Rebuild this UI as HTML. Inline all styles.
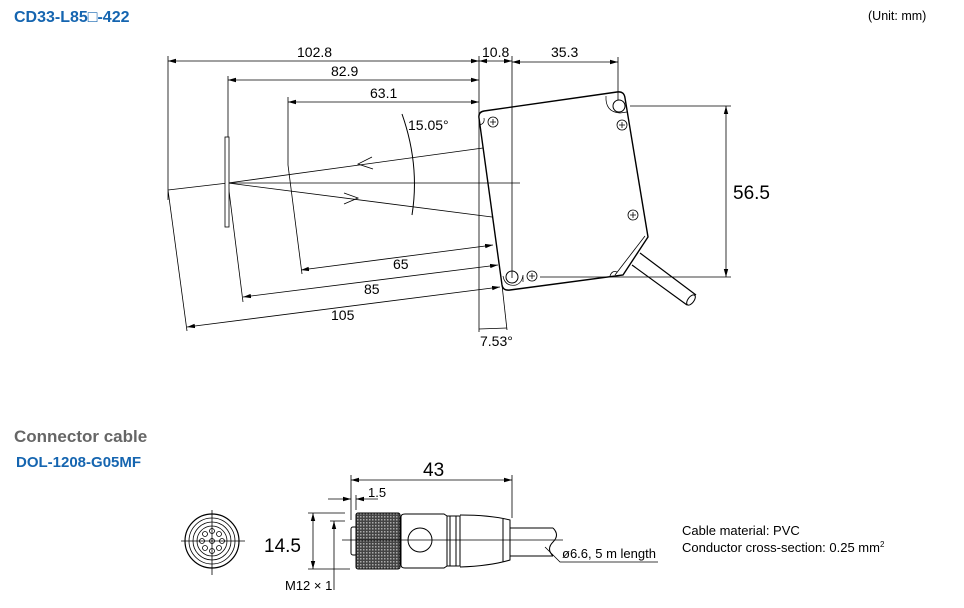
<!DOCTYPE html>
<html><head><meta charset="utf-8"><style>
html,body{margin:0;padding:0;background:#fff;}
svg{display:block;font-family:"Liberation Sans",sans-serif;}
</style></head><body>
<svg width="964" height="608" viewBox="0 0 964 608" xmlns="http://www.w3.org/2000/svg">
<defs>
<marker id="a" markerWidth="8" markerHeight="6" refX="8" refY="3" orient="auto-start-reverse" markerUnits="userSpaceOnUse"><path d="M0,0.8 L8,3 L0,5.2 Z" fill="#000"/></marker>
<pattern id="k" width="3" height="3" patternUnits="userSpaceOnUse"><rect width="3" height="3" fill="#444"/><rect x="0" y="0" width="1.5" height="1.5" fill="#aaa"/></pattern>
</defs>
<text x="14" y="22" font-size="16" font-weight="bold" fill="#1565b0">CD33-L85□-422</text>
<text x="868" y="20" font-size="12.5" fill="#000">(Unit: mm)</text>

<g stroke="#000" stroke-width="0.8" fill="none">
<path d="M168,56 V200 M168,190 L187,331 M228,76 V183 L243,302 M288,97 V165 L302,274 M479,56 V332 M512,56 V278 M618,57 V100"/>
<line x1="168" y1="61" x2="479" y2="61" marker-start="url(#a)" marker-end="url(#a)"/>
<line x1="479" y1="61" x2="512" y2="61" marker-start="url(#a)" marker-end="url(#a)"/>
<line x1="512" y1="62" x2="618" y2="62" marker-start="url(#a)" marker-end="url(#a)"/>
<line x1="228" y1="80" x2="479" y2="80" marker-start="url(#a)" marker-end="url(#a)"/>
<line x1="288" y1="102" x2="479" y2="102" marker-start="url(#a)" marker-end="url(#a)"/>
<line x1="228" y1="183" x2="520" y2="183"/>
<line x1="168" y1="190" x2="228" y2="183"/>
<line x1="228" y1="183" x2="483" y2="148"/>
<line x1="228" y1="183" x2="492" y2="217"/>
<path d="M372,157 L358,164 L373,169"/>
<path d="M344,193 L358,198 L344,204"/>
<path d="M402,114 Q420,165 412,215" stroke-width="1"/>
<line x1="301" y1="270" x2="493" y2="245" marker-start="url(#a)" marker-end="url(#a)"/>
<line x1="243" y1="297" x2="498" y2="265" marker-start="url(#a)" marker-end="url(#a)"/>
<line x1="187" y1="327" x2="500" y2="287" marker-start="url(#a)" marker-end="url(#a)"/>
<line x1="502" y1="285" x2="507" y2="330"/>
<line x1="479" y1="329" x2="507" y2="328"/>
</g>
<rect x="225" y="137" width="4" height="90" fill="#fff" stroke="#000" stroke-width="0.8"/>

<g stroke="#000" fill="none">
<path d="M484,111 L617,92 Q624,91 625,98 L648,237 L623,275 L510,290 Q503,291 502,285 L479,118 Q478,112 484,111 Z" stroke-width="1.4"/>
<path d="M479,125 Q485,124 484,118" stroke-width="0.7"/>
<path d="M606,96 Q605,112 620,113 L627,112" stroke-width="0.7"/>
<path d="M503,276 Q505,287 516,285 Q522,283 523,275 L523,282" stroke-width="0.7"/>
<path d="M645,236 L615,275 M610,276 Q612,270 617,272" stroke-width="0.8"/>
<circle cx="619" cy="106" r="6" stroke-width="1"/>
<circle cx="512" cy="277" r="6" stroke-width="1"/>
<g stroke-width="0.8">
<circle cx="493" cy="122" r="5"/><path d="M490,122h6M493,119v6"/>
<circle cx="622" cy="125" r="5"/><path d="M619,125h6M622,122v6"/>
<circle cx="633" cy="215" r="5"/><path d="M630,215h6M633,212v6"/>
<circle cx="532" cy="276" r="5"/><path d="M529,276h6M532,273v6"/>
</g>
<path d="M640,253 L696,295 M632,265 L687,305" stroke-width="1.2"/>
<ellipse cx="691" cy="300" rx="3" ry="6" transform="rotate(37 691 300)" stroke-width="1"/>
<g stroke-width="0.8">
<path d="M630,106 H731 M540,277 H731"/>
<line x1="726" y1="106" x2="726" y2="277" marker-start="url(#a)" marker-end="url(#a)"/>
</g>
</g>
<g font-size="14" fill="#000">
<text x="297" y="57">102.8</text>
<text x="482" y="57">10.8</text>
<text x="551" y="57">35.3</text>
<text x="331" y="76">82.9</text>
<text x="370" y="98">63.1</text>
<text x="408" y="130">15.05°</text>
<text x="393" y="269">65</text>
<text x="364" y="294">85</text>
<text x="331" y="320">105</text>
<text x="480" y="346">7.53°</text>
<text x="733" y="199" font-size="19">56.5</text>
</g>

<text x="14" y="442" font-size="17" font-weight="bold" fill="#666">Connector cable</text>
<text x="16" y="467" font-size="15" font-weight="bold" fill="#1565b0">DOL-1208-G05MF</text>

<g stroke="#000" fill="none" stroke-width="0.8">
<circle cx="212" cy="541" r="27" stroke-width="1.2"/>
<circle cx="212" cy="541" r="23"/>
<circle cx="212" cy="541" r="19"/>
<circle cx="212" cy="541" r="15"/>
<path d="M181,541 H245 M212,510 V575"/>
<circle cx="212" cy="541" r="2.5"/>
<circle cx="212" cy="531" r="2.5"/><circle cx="219" cy="534" r="2.5"/><circle cx="222" cy="541" r="2.5"/><circle cx="219" cy="548" r="2.5"/><circle cx="212" cy="551" r="2.5"/><circle cx="205" cy="548" r="2.5"/><circle cx="202" cy="541" r="2.5"/><circle cx="205" cy="534" r="2.5"/>
</g>
<g stroke="#000" fill="none" stroke-width="1">
<rect x="351" y="527" width="6" height="28" rx="2"/>
<rect x="356" y="513" width="44" height="56" rx="2" fill="url(#k)"/>
<path d="M401,517 Q401,514 405,514 H444 L447,516 V566 L444,568 H405 Q401,568 401,565 Z"/>
<path d="M447,516 H460 V566 H447 M450,516 V566 M456,516 V566"/>
<path d="M460,515 Q490,515 510,520 V560 Q490,566 460,567"/>
<line x1="503" y1="519" x2="503" y2="562"/>
<path d="M510,528 H553 M510,556 H553"/>
<path d="M553,528 Q560,535 553,542 Q546,549 553,556"/>
<circle cx="420" cy="540" r="12"/>
</g>
<g stroke="#000" fill="none" stroke-width="0.8">
<path d="M342,540 H563"/>
<path d="M351,475 V520 M512,475 V518 M356,495 V510"/>
<line x1="351" y1="480" x2="512" y2="480" marker-start="url(#a)" marker-end="url(#a)"/>
<line x1="328" y1="499" x2="351" y2="499" marker-end="url(#a)"/>
<line x1="378" y1="499" x2="356" y2="499" marker-end="url(#a)"/>
<path d="M308,513 H345 M308,569 H350 M330,521 H345"/>
<line x1="313" y1="513" x2="313" y2="569" marker-start="url(#a)" marker-end="url(#a)"/>
<line x1="334" y1="590" x2="334" y2="521" marker-end="url(#a)"/>
<path d="M545,547 L560,562 H658"/>
</g>
<g font-size="13" fill="#000">
<text x="423" y="476" font-size="19">43</text>
<text x="368" y="497" font-size="13">1.5</text>
<text x="264" y="552" font-size="19">14.5</text>
<text x="285" y="590" font-size="13">M12 × 1</text>
<text x="562" y="558" font-size="13">ø6.6, 5 m length</text>
<text x="682" y="535" font-size="13">Cable material: PVC</text>
<text x="682" y="552" font-size="13">Conductor cross-section: 0.25 mm<tspan font-size="8" dy="-5">2</tspan></text>
</g>
</svg>
</body></html>
